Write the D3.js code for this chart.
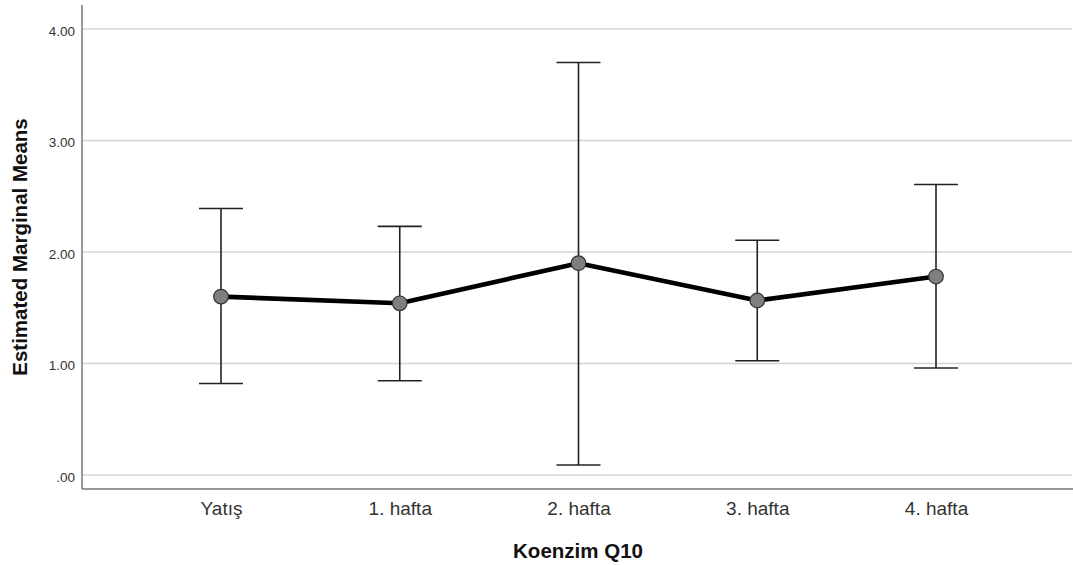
<!DOCTYPE html>
<html>
<head>
<meta charset="utf-8">
<script src="https://cdn.jsdelivr.net/npm/d3@7"></script>
<style>
  body { margin: 0; background: #fff; }
  text { font-family: Arial, "Liberation Sans", sans-serif; }
</style>
</head>
<body>
<div id="container"></div>
<script>
const categories = ["Yatış", "1. hafta", "2. hafta", "3. hafta", "4. hafta"];
const means = [1.60, 1.54, 1.90, 1.565, 1.78];
const lower = [0.82, 0.845, 0.09, 1.025, 0.96];
const upper = [2.39, 2.23, 3.70, 2.105, 2.605];
const yTicks = [0, 1, 2, 3, 4];

function main() {
    const width = 1073, height = 565;
    const margin = { left: 82, top: 5, right: 1, bottom: 76 };
    const svg = d3.select("#container")
        .append("svg")
        .attr("width", width)
        .attr("height", height);

    const x = d3.scalePoint()
        .domain(categories)
        .range([221, 936]);
    const y = d3.scaleLinear()
        .domain([0, 4])
        .range([475, 29]);
    const bottom = height - margin.bottom;

    // gridlines
    svg.append("g")
        .selectAll("line")
        .data(yTicks)
        .join("line")
        .attr("x1", margin.left)
        .attr("x2", width - margin.right)
        .attr("y1", d => y(d))
        .attr("y2", d => y(d))
        .attr("stroke", "#d4d4d4")
        .attr("stroke-width", 1.5);

    // y axis
    const yAxis = svg.append("g")
        .attr("transform", `translate(${margin.left},0)`)
        .call(d3.axisLeft(y).tickValues(yTicks).tickSize(0).tickPadding(7)
            .tickFormat(d => d === 0 ? ".00" : d3.format(".2f")(d)));
    yAxis.select(".domain").remove();
    yAxis.selectAll("text")
        .attr("font-size", 13.5)
        .attr("dy", "0.45em")
        .attr("fill", "#333");

    // x axis
    const xAxis = svg.append("g")
        .attr("transform", `translate(0,${bottom})`)
        .call(d3.axisBottom(x).tickSize(0).tickPadding(13));
    xAxis.select(".domain").remove();
    xAxis.selectAll("text")
        .attr("font-size", 19)
        .attr("fill", "#333");

    // axis frame lines
    svg.append("line")
        .attr("x1", margin.left).attr("x2", margin.left)
        .attr("y1", margin.top).attr("y2", bottom)
        .attr("stroke", "#777").attr("stroke-width", 1.5);
    svg.append("line")
        .attr("x1", margin.left).attr("x2", width)
        .attr("y1", bottom).attr("y2", bottom)
        .attr("stroke", "#777").attr("stroke-width", 1.5);

    // titles
    svg.append("text")
        .attr("transform", `translate(27,247) rotate(-90)`)
        .attr("text-anchor", "middle")
        .attr("font-size", 20.5)
        .attr("font-weight", "bold")
        .attr("fill", "#111")
        .text("Estimated Marginal Means");
    svg.append("text")
        .attr("x", 578)
        .attr("y", 558)
        .attr("text-anchor", "middle")
        .attr("font-size", 20.5)
        .attr("font-weight", "bold")
        .attr("fill", "#111")
        .text("Koenzim Q10");

    const data = categories.map((c, i) => ({ cat: c, mean: means[i], lo: lower[i], hi: upper[i] }));
    const capW = 22;

    // error bars
    const eb = svg.append("g")
        .attr("stroke", "#222")
        .attr("stroke-width", 1.6)
        .selectAll("g")
        .data(data)
        .join("g");
    eb.append("line")
        .attr("x1", d => x(d.cat)).attr("x2", d => x(d.cat))
        .attr("y1", d => y(d.lo)).attr("y2", d => y(d.hi));
    eb.append("line")
        .attr("x1", d => x(d.cat) - capW).attr("x2", d => x(d.cat) + capW)
        .attr("y1", d => y(d.hi)).attr("y2", d => y(d.hi));
    eb.append("line")
        .attr("x1", d => x(d.cat) - capW).attr("x2", d => x(d.cat) + capW)
        .attr("y1", d => y(d.lo)).attr("y2", d => y(d.lo));

    // mean line
    svg.append("path")
        .datum(data)
        .attr("fill", "none")
        .attr("stroke", "#000")
        .attr("stroke-width", 4.6)
        .attr("stroke-linejoin", "round")
        .attr("d", d3.line().x(d => x(d.cat)).y(d => y(d.mean)));

    svg.append("g")
        .selectAll("circle")
        .data(data)
        .join("circle")
        .attr("cx", d => x(d.cat))
        .attr("cy", d => y(d.mean))
        .attr("r", 7.3)
        .attr("fill", "#7f7f7f")
        .attr("stroke", "#333")
        .attr("stroke-width", 1.2);
}
main();
</script>
</body>
</html>
